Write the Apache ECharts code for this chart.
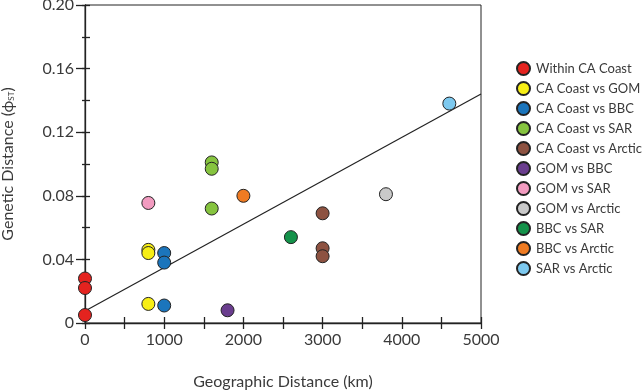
<!DOCTYPE html>
<html>
<head>
<meta charset="utf-8">
<script src="https://cdn.jsdelivr.net/npm/echarts@6/dist/echarts.min.js"></script>
<style>
  html, body { margin: 0; padding: 0; background: #fff; }
  #chart { width: 644px; height: 390px; }
</style>
</head>
<body>
<div id="chart"></div>
<script>
// groups shown in the legend, with their colours
const groupNames = [
  'Within CA Coast', 'CA Coast vs GOM', 'CA Coast vs BBC', 'CA Coast vs SAR',
  'CA Coast vs Arctic', 'GOM vs BBC', 'GOM vs SAR', 'GOM vs Arctic',
  'BBC vs SAR', 'BBC vs Arctic', 'SAR vs Arctic'
]
const groupColors = [
  '#e4231f', '#f7ee15', '#1b75bc', '#86c43f',
  '#8d5241', '#6a3d8e', '#f29bc0', '#c9c9c9',
  '#14924a', '#ef7b22', '#7dc9ef'
]
// [geographic distance km, genetic distance] per group
const withinCA = [[0, 0.028], [0, 0.022], [0, 0.005]]
const caGom = [[800, 0.046], [800, 0.044], [800, 0.012]]
const caBbc = [[1000, 0.044], [1000, 0.038], [1000, 0.011]]
const caSar = [[1600, 0.101], [1600, 0.097], [1600, 0.072]]
const caArctic = [[3000, 0.069], [3000, 0.047], [3000, 0.042]]
const gomBbc = [[1800, 0.008]]
const gomSar = [[800, 0.0755]]
const gomArctic = [[3800, 0.081]]
const bbcSar = [[2600, 0.054]]
const bbcArctic = [[2000, 0.080]]
const sarArctic = [[4600, 0.138]]
const groupData = [withinCA, caGom, caBbc, caSar, caArctic, gomBbc, gomSar, gomArctic, bbcSar, bbcArctic, sarArctic]

// regression line end points
const fitLine = [[0, 0.0075], [5000, 0.144]]

const xMin = 0, xMax = 5000, xTick = 500
const yMin = 0, yMax = 0.2, yMajor = 0.04, yMinor = 0.02

const font = 'Lato, "Open Sans", sans-serif'
const ink = '#222'
const textCol = '#3a3a3a'

const chart = echarts.init(document.getElementById('chart'))

const gridPos = { left: 85, right: 163, top: 5, bottom: 67 }

const baseX = {
  type: 'value', min: xMin, max: xMax, interval: xTick, position: 'bottom',
  splitLine: { show: false },
}
const baseY = {
  type: 'value', min: yMin, max: yMax, position: 'left',
  splitLine: { show: false },
}

const option = {
  animation: false,
  grid: Object.assign({
    show: true, borderColor: ink, borderWidth: 1, backgroundColor: 'transparent',
    containLabel: false, outerBoundsMode: 'none'
  }, gridPos),
  textStyle: { fontFamily: font },
  xAxis: [
    Object.assign({}, baseX, {
      name: 'Geographic Distance (km)',
      nameLocation: 'middle',
      nameGap: 51,
      nameTextStyle: { fontSize: 16, color: textCol, fontFamily: font },
      axisLine: { lineStyle: { color: ink, width: 1.3 } },
      axisTick: { length: 6, lineStyle: { color: ink, width: 1.3 } },
      axisLabel: {
        fontSize: 16, color: textCol, margin: 9, fontFamily: font,
        formatter: v => (v % 1000 === 0 ? String(v) : '')
      }
    }),
    Object.assign({}, baseX, {
      axisLine: { show: false },
      axisTick: { inside: true, length: 6, lineStyle: { color: ink, width: 1.3 } },
      axisLabel: { show: false }
    })
  ],
  yAxis: [
    Object.assign({}, baseY, {
      interval: yMajor,
      name: '{a|Genetic Distance (ϕ}{s|ST}{a|)}',
      nameLocation: 'middle',
      nameRotate: 90,
      nameGap: 69,
      nameTextStyle: {
        rich: {
          a: { fontSize: 16, color: textCol, fontFamily: font },
          s: { fontSize: 8, color: textCol, fontFamily: font, padding: [7, 0, 0, 0] }
        }
      },
      axisLine: { lineStyle: { color: ink, width: 1.3 } },
      axisTick: { length: 9, lineStyle: { color: ink, width: 1.3 } },
      axisLabel: {
        fontSize: 16, color: textCol, margin: 11, fontFamily: font,
        formatter: v => (v === 0 ? '0' : v.toFixed(2))
      }
    }),
    Object.assign({}, baseY, {
      interval: yMinor,
      axisLine: { show: false },
      axisTick: { inside: true, length: 5, lineStyle: { color: ink, width: 1.3 } },
      axisLabel: { show: false }
    }),
    Object.assign({}, baseY, {
      interval: yMinor,
      axisLine: { show: false },
      axisTick: { length: 3, lineStyle: { color: ink, width: 1.3 } },
      axisLabel: { show: false }
    })
  ],
  legend: {
    orient: 'vertical',
    left: 516,
    top: 61,
    padding: 0,
    itemWidth: 13,
    itemHeight: 13,
    itemGap: 5,
    icon: 'circle',
    textStyle: { fontSize: 13, lineHeight: 15, color: textCol, fontFamily: font, padding: [0, 0, 0, 1] },
    data: groupNames
  },
  series: [
    {
      type: 'line',
      data: fitLine,
      symbol: 'none',
      lineStyle: { color: ink, width: 1.2 },
      silent: true,
      z: 1
    }
  ].concat(groupNames.map((name, i) => ({
    name: name,
    type: 'scatter',
    data: groupData[i],
    symbolSize: 13,
    itemStyle: { color: groupColors[i], borderColor: '#222', borderWidth: 1, opacity: 1 },
    z: 3
  })))
}

chart.setOption(option)
</script>
</body>
</html>
